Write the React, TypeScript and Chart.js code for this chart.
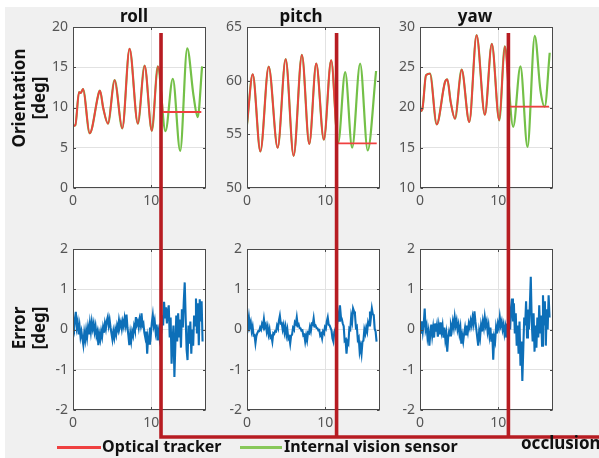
import React, { useEffect, useRef } from "react";
import { Chart, registerables } from "chart.js";

Chart.register(...registerables);

// ---------------- data ----------------
const panelTitles = ["roll", "pitch", "yaw"];
const xTickValues = [0, 10];
const xMaxValue = 17;
const errorTickValues = [-2, -1, 0, 1, 2];
const errorStep = 0.12;
const occlusionTimes = [11.25, 11.45, 11.3];

const rollTicks = [0, 5, 10, 15, 20];
const pitchTicks = [50, 55, 60, 65];
const yawTicks = [10, 15, 20, 25, 30];

// roll orientation (key samples)
const rollSharedT = [0, 0.3, 0.77, 1.0, 1.28, 2.13, 3.32, 3.45, 3.87, 4.47, 5.32, 6.3, 7.23, 8.29, 9.15, 10.08, 10.84];
const rollSharedV = [7.7, 7.8, 11.9, 11.8, 12.3, 6.8, 11.9, 12.1, 9.9, 8.0, 13.4, 7.4, 17.3, 8.0, 15.2, 7.1, 15.1];
const rollTrackerAfterT = [11.4, 11.45, 16.4];
const rollTrackerAfterV = [10.4, 9.44, 9.44];
const rollSensorAfterT = [11.82, 12.76, 13.7, 14.6, 15.4, 15.94, 16.5];
const rollSensorAfterV = [7.06, 13.57, 4.6, 17.35, 11.5, 8.8, 15.1];

// pitch orientation
const pitchSharedT = [0, 0.73, 1.71, 2.77, 3.92, 4.94, 5.96, 7.02, 7.96, 8.85, 9.82, 10.76];
const pitchSharedV = [55.9, 60.6, 53.4, 61.3, 53.75, 62.0, 53.0, 62.4, 54.1, 61.6, 54.5, 61.9];
const pitchTrackerAfterT = [11.62, 16.58];
const pitchTrackerAfterV = [54.16, 54.16];
const pitchSensorAfterT = [11.65, 12.55, 13.44, 14.46, 15.43, 16.5];
const pitchSensorAfterV = [54.2, 60.8, 53.75, 61.6, 53.5, 60.9];

// yaw orientation
const yawSharedT = [0, 0.3, 0.77, 1.28, 2.13, 3.19, 3.49, 3.92, 4.47, 5.32, 6.3, 7.23, 8.29, 9.18, 10.13, 10.84];
const yawSharedV = [19.5, 19.8, 24.0, 24.2, 17.9, 23.15, 23.5, 20.7, 18.6, 24.7, 18.2, 29.0, 19.1, 27.9, 18.4, 27.6];
const yawTrackerAfterT = [11.55, 16.5];
const yawTrackerAfterV = [20.1, 20.1];
const yawSensorAfterT = [11.91, 12.84, 13.74, 14.67, 15.4, 15.94, 16.58];
const yawSensorAfterV = [17.6, 25.1, 15.1, 28.9, 22.1, 20.1, 26.8];

// errors (sampled every errorStep seconds)
const rollError = [
  0.12, 0.02, 0.25, 0.44, 0.05, 0.18, -0.12, 0.08, -0.18, -0.05,
  -0.22, -0.38, -0.08, -0.25, -0.02, -0.2, 0.05, -0.12, 0.15, -0.05,
  0.19, 0.02, 0.15, -0.06, 0.08, -0.15, -0.05, -0.39, -0.12, -0.25,
  -0.05, -0.18, 0.05, -0.08, 0.15, 0.02, 0.22, 0.31, 0.1, 0.24,
  0.05, -0.1, -0.25, -0.05, -0.2, 0.0, -0.12, 0.1, 0.0, 0.23,
  0.08, 0.18, 0.02, 0.2, 0.08, 0.28, 0.12, 0.37, 0.05, -0.15,
  -0.39, -0.1, -0.28, -0.05, -0.15, 0.08, -0.02, 0.31, 0.12, 0.2,
  0.05, 0.25, 0.12, 0.4, 0.1, 0.15, -0.08, -0.2, -0.05, -0.6,
  -0.2, -0.35, 0.05, -0.1, 0.18, 0.36, 0.1, 0.22, -0.05, 0.12,
  -0.27, -0.05, -0.2, 0.15, -0.1, 0.35, 0.1, 0.69, 0.3, 0.55,
  0.15, 0.45, 0.6, -0.2, 0.3, -0.85, -0.3, 0.1, -1.18, -0.4,
  0.35, -0.3, 0.4, -0.2, 0.25, -0.45, 0.5, 0.05, 0.7, 1.17,
  0.3, -0.5, -0.76, 0.1, -0.35, 0.2, -0.6, 0.0, -0.4, 0.35,
  0.1, 0.77, -0.1, 0.65, -0.39, 0.75, 0.2, 0.7, -0.3,
];
const pitchError = [
  0.22, 0.12, 0.31, 0.08, 0.18, -0.04, 0.07, -0.15, -0.14, -0.34,
  -0.16, -0.09, -0.04, -0.04, 0.05, 0.0, 0.14, 0.08, 0.26, 0.06,
  0.12, -0.05, 0.07, -0.12, 0.0, -0.2, -0.17, -0.3, -0.09, -0.11,
  -0.04, -0.05, 0.1, 0.04, 0.22, 0.34, 0.15, 0.16, 0.0, 0.11,
  -0.07, 0.07, -0.13, 0.0, -0.23, -0.19, -0.35, -0.15, -0.13, 0.04,
  0.0, 0.18, 0.14, 0.3, 0.1, 0.13, 0.04, 0.03, -0.03, -0.02,
  -0.15, -0.13, -0.3, -0.15, -0.27, -0.07, -0.09, 0.06, -0.04, 0.14,
  0.12, 0.28, 0.08, 0.1, 0.04, 0.03, -0.02, -0.01, -0.15, -0.11,
  -0.22, -0.05, -0.09, 0.06, 0.02, 0.2, 0.3, 0.12, 0.1, 0.04,
  -0.02, -0.22, -0.3, -0.06, 0.0, 0.08, 0.14, 0.4, 0.22, 0.6,
  0.32, 0.26, 0.15, 0.08, -0.28, -0.25, -0.6, -0.3, -0.35, 0.03,
  0.0, 0.33, 0.2, 0.52, 0.45, 0.38, 0.05, 0.08, -0.25, -0.2,
  -0.55, -0.42, -0.6, -0.3, -0.28, 0.0, -0.1, 0.05, -0.05, 0.18,
  0.1, 0.45, 0.3, 0.52, 0.38, 0.36, 0.02, -0.05, -0.3,
];
const yawError = [
  0.1, -0.1, 0.2, -0.05, 0.15, 0.52, 0.0, 0.1, -0.2, -0.05,
  -0.4, -0.1, 0.12, -0.15, 0.05, -0.2, 0.15, -0.05, 0.1, -0.18,
  0.08, -0.12, 0.18, -0.05, 0.1, -0.2, 0.05, -0.25, -0.1, -0.55,
  -0.2, -0.05, -0.15, 0.1, 0.0, 0.2, 0.05, 0.3, 0.1, 0.22,
  0.0, 0.12, -0.1, 0.05, -0.35, -0.15, -0.3, -0.1, 0.05, -0.12,
  0.1, -0.05, 0.15, 0.05, 0.22, 0.1, 0.3, 0.15, 0.45, 0.2,
  0.0, -0.2, -0.4, -0.05, -0.2, 0.1, -0.05, 0.2, 0.05, 0.3,
  0.1, 0.2, -0.05, 0.1, -0.15, 0.05, -0.3, -0.1, -0.75, -0.2,
  -0.3, 0.05, -0.1, 0.15, 0.05, 0.3, 0.1, 0.2, 0.0, 0.12,
  -0.1, 0.05, -0.2, 0.15, -0.15, 0.3, 0.0, 0.55, 0.77, 0.2,
  0.65, -0.1, 0.4, -0.4, 0.1, -0.6, 0.2, -0.9, -0.3, -1.28,
  -0.5, 0.3, 0.1, 0.7, -0.2, 0.5, 0.0, 0.6, 1.31, 0.2,
  -0.3, 0.4, -0.55, 0.1, -0.45, 0.3, -0.2, 0.6, -0.1, 0.35,
  -0.4, 0.85, 0.1, 0.7, -0.4, 0.5, 0.0, 0.85, 0.3,
];

// ---------------- styling / layout ----------------
const FONT = "'Noto Sans', 'Liberation Sans', Arial, sans-serif";
const TRACKER_COLOR = "#ef4040";
const SENSOR_COLOR = "#74c048";
const ERROR_COLOR = "#0d6fb8";
const OCC_COLOR = "#b71c22";
const GRID_COLOR = "#e2e2e2";
const AXIS_COLOR = "#4a4a4a";
const TICK_COLOR = "#555555";

const PLOT_LEFT = [73, 247, 420];
const ROW_TOP = [27, 249];
const PLOT_W = 133;
const PLOT_H = 161;
const Y_AXIS_W = 45;
const X_AXIS_H = 30;
const PAD_TOP = 20;
const PAD_RIGHT = 12;
const CANVAS_W = Y_AXIS_W + PLOT_W + PAD_RIGHT;
const CANVAS_H = PAD_TOP + PLOT_H + X_AXIS_H;
const OCC_TOP = 33;
const OCC_BOTTOM = 437;
const OCC_WIDTH = 3.6;

const pts = (t: number[], v: number[]) => t.map((x, i) => ({ x, y: v[i] }));

const orientationPanels = [
  { sT: rollSharedT, sV: rollSharedV, tT: rollTrackerAfterT, tV: rollTrackerAfterV, gT: rollSensorAfterT, gV: rollSensorAfterV, ticks: rollTicks },
  { sT: pitchSharedT, sV: pitchSharedV, tT: pitchTrackerAfterT, tV: pitchTrackerAfterV, gT: pitchSensorAfterT, gV: pitchSensorAfterV, ticks: pitchTicks },
  { sT: yawSharedT, sV: yawSharedV, tT: yawTrackerAfterT, tV: yawTrackerAfterV, gT: yawSensorAfterT, gV: yawSensorAfterV, ticks: yawTicks },
];
const errorPanels = [rollError, pitchError, yawError];

const boxPlugin = {
  id: "matlabBox",
  beforeDraw(chart: any) {
    const { ctx, chartArea: a } = chart;
    ctx.save();
    ctx.fillStyle = "#ffffff";
    ctx.fillRect(a.left, a.top, a.right - a.left, a.bottom - a.top);
    ctx.restore();
  },
  afterDatasetsDraw(chart: any) {
    const { ctx, chartArea: a, scales } = chart;
    ctx.save();
    ctx.strokeStyle = AXIS_COLOR;
    ctx.lineWidth = 1;
    const l = Math.round(a.left) + 0.5;
    const r = Math.round(a.right) - 0.5;
    const t = Math.round(a.top) + 0.5;
    const b = Math.round(a.bottom) - 0.5;
    ctx.strokeRect(l, t, r - l, b - t);
    const tl = 2.5;
    ctx.beginPath();
    scales.x.ticks.forEach((tk: any) => {
      const px = Math.round(scales.x.getPixelForValue(tk.value)) + 0.5;
      ctx.moveTo(px, b); ctx.lineTo(px, b - tl);
      ctx.moveTo(px, t); ctx.lineTo(px, t + tl);
    });
    scales.y.ticks.forEach((tk: any) => {
      const py = Math.round(scales.y.getPixelForValue(tk.value)) + 0.5;
      ctx.moveTo(l, py); ctx.lineTo(l + tl, py);
      ctx.moveTo(r, py); ctx.lineTo(r - tl, py);
    });
    ctx.stroke();
    ctx.restore();
  },
};

function makeOptions(ticks: number[]) {
  return {
    animation: false,
    responsive: false,
    devicePixelRatio: 1,
    events: [],
    layout: { padding: { top: PAD_TOP, right: PAD_RIGHT, left: 0, bottom: 0 } },
    plugins: { legend: { display: false }, tooltip: { enabled: false }, title: { display: false } },
    elements: { point: { radius: 0 } },
    scales: {
      x: {
        type: "linear",
        min: 0,
        max: xMaxValue,
        afterBuildTicks: (s: any) => { s.ticks = xTickValues.map((v) => ({ value: v })); },
        afterFit: (s: any) => { s.height = X_AXIS_H; },
        grid: { color: GRID_COLOR, drawTicks: false },
        border: { display: false },
        ticks: { color: TICK_COLOR, font: { family: FONT, size: 14 }, padding: 5, maxRotation: 0, autoSkip: false },
      },
      y: {
        type: "linear",
        min: ticks[0],
        max: ticks[ticks.length - 1],
        afterBuildTicks: (s: any) => { s.ticks = ticks.map((v) => ({ value: v })); },
        afterFit: (s: any) => { s.width = Y_AXIS_W; },
        grid: { color: GRID_COLOR, drawTicks: false },
        border: { display: false },
        ticks: { color: TICK_COLOR, font: { family: FONT, size: 14 }, padding: 5, autoSkip: false },
      },
    },
  };
}

const textBold = (size: number): React.CSSProperties => ({
  position: "absolute",
  fontFamily: FONT,
  fontWeight: 700,
  fontSize: size,
  lineHeight: "20px",
  color: "#111",
  whiteSpace: "nowrap",
});

export default function App() {
  const canvasRefs = useRef<(HTMLCanvasElement | null)[]>([]);
  const overlayRef = useRef<HTMLCanvasElement | null>(null);

  useEffect(() => {
    const charts: any[] = [];
    for (let c = 0; c < 3; c++) {
      const p = orientationPanels[c];
      const top = new Chart(canvasRefs.current[c] as HTMLCanvasElement, {
        type: "line",
        data: {
          datasets: [
            {
              data: pts(p.sT.concat(p.gT), p.sV.concat(p.gV)),
              borderColor: SENSOR_COLOR,
              borderWidth: 2.2,
              cubicInterpolationMode: "monotone",
              order: 2,
            },
            {
              data: pts(p.sT.concat(p.tT), p.sV.concat(p.tV)),
              borderColor: TRACKER_COLOR,
              borderWidth: 1.8,
              cubicInterpolationMode: "monotone",
              order: 1,
            },
          ],
        },
        options: makeOptions(p.ticks) as any,
        plugins: [boxPlugin],
      });
      charts.push(top);
    }
    for (let c = 0; c < 3; c++) {
      const e = errorPanels[c];
      const ch = new Chart(canvasRefs.current[3 + c] as HTMLCanvasElement, {
        type: "line",
        data: {
          datasets: [
            {
              data: e.map((v, i) => ({ x: i * errorStep, y: v })),
              borderColor: ERROR_COLOR,
              borderWidth: 2.1,
              tension: 0,
            },
          ],
        },
        options: makeOptions(errorTickValues) as any,
        plugins: [boxPlugin],
      });
      charts.push(ch);
    }

    // occlusion markers, placed via each column's x scale
    const ov = overlayRef.current;
    if (ov) {
      const ctx = ov.getContext("2d") as CanvasRenderingContext2D;
      ctx.clearRect(0, 0, ov.width, ov.height);
      ctx.strokeStyle = OCC_COLOR;
      ctx.lineWidth = OCC_WIDTH;
      const xs = [0, 1, 2].map(
        (c) => PLOT_LEFT[c] - Y_AXIS_W + charts[c].scales.x.getPixelForValue(occlusionTimes[c])
      );
      ctx.beginPath();
      xs.forEach((x) => {
        ctx.moveTo(x, OCC_TOP);
        ctx.lineTo(x, OCC_BOTTOM + OCC_WIDTH / 2);
      });
      ctx.moveTo(xs[0] - OCC_WIDTH / 2, OCC_BOTTOM);
      ctx.lineTo(ov.width, OCC_BOTTOM);
      ctx.stroke();
    }

    return () => charts.forEach((ch) => ch.destroy());
  }, []);

  const canvases = [];
  for (let r = 0; r < 2; r++) {
    for (let c = 0; c < 3; c++) {
      const idx = r * 3 + c;
      canvases.push(
        <canvas
          key={idx}
          ref={(el) => { canvasRefs.current[idx] = el; }}
          width={CANVAS_W}
          height={CANVAS_H}
          style={{
            position: "absolute",
            left: PLOT_LEFT[c] - Y_AXIS_W,
            top: ROW_TOP[r] - PAD_TOP,
            width: CANVAS_W,
            height: CANVAS_H,
          }}
        />
      );
    }
  }

  const titleCenters = [134, 301, 475];
  const yLabel = (lines: string[], cy: number) => (
    <div
      style={{
        ...textBold(17),
        left: 28.5 - 60,
        top: cy - 20,
        width: 120,
        height: 40,
        textAlign: "center",
        transform: "rotate(-90deg)",
        transformOrigin: "60px 20px",
      }}
    >
      {lines[0]}
      <br />
      {lines[1]}
    </div>
  );

  return (
    <div
      style={{
        position: "fixed",
        left: 0,
        top: 0,
        width: 599,
        height: 458,
        background: "#ffffff",
        overflow: "hidden",
      }}
    >
      <div style={{ position: "absolute", left: 5, top: 7, right: 0, bottom: 0, background: "#f0f0f0" }} />
      {canvases}
      <canvas
        ref={overlayRef}
        width={599}
        height={458}
        style={{ position: "absolute", left: 0, top: 0, width: 599, height: 458 }}
      />
      {panelTitles.map((t, i) => (
        <div key={t} style={{ ...textBold(17), left: titleCenters[i], top: 6, transform: "translateX(-50%)" }}>
          {t}
        </div>
      ))}
      {yLabel(["Orientation", "[deg]"], 98)}
      {yLabel(["Error", "[deg]"], 328)}
      <div style={{ position: "absolute", left: 57, top: 446, width: 44, height: 3, background: TRACKER_COLOR }} />
      <div style={{ ...textBold(16), left: 102, top: 436 }}>Optical tracker</div>
      <div style={{ position: "absolute", left: 240, top: 446, width: 42, height: 3, background: "#88c85a" }} />
      <div style={{ ...textBold(16), left: 284, top: 436 }}>Internal vision sensor</div>
      <div style={{ ...textBold(17), left: 521, top: 433 }}>occlusion</div>
    </div>
  );
}
